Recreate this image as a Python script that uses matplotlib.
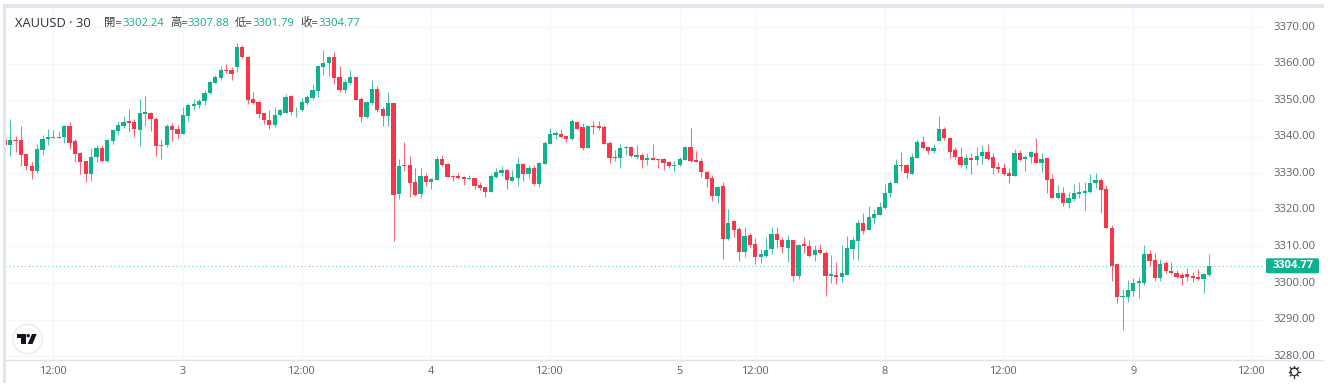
import matplotlib
matplotlib.use("Agg")
import matplotlib.pyplot as plt
from matplotlib.patches import Circle, Polygon, Rectangle, FancyBboxPatch
import numpy as np

symbol = "XAUUSD · 30"
last_open, last_high, last_low, last_close = 3302.24, 3307.88, 3301.79, 3304.77
ohlc_labels = ["開", "高", "低", "收"]
price_ticks = [3280, 3290, 3300, 3310, 3320, 3330, 3340, 3350, 3360, 3370]
time_tick_bars = [9, 33, 55, 79, 101, 125, 139, 163, 185, 209, 231]
time_tick_labels = ["12:00", "3", "12:00", "4", "12:00", "5", "12:00", "8", "12:00", "9", "12:00"]

opens = [
3339.1,3337.8,3339.0,3339.0,3335.3,3332.1,3330.6,3336.4,3339.4,3339.7,
3339.8,3339.9,3343.0,3338.9,3335.6,3333.3,3329.8,3334.5,3336.8,3333.4,
3338.9,3341.6,3343.0,3344.2,3344.0,3341.8,3346.3,3346.6,3345.0,3337.5,
3337.8,3343.0,3342.0,3340.8,3345.7,3348.5,3348.7,3349.7,3351.9,3354.8,
3356.1,3358.3,3358.3,3359.0,3364.5,3361.9,3350.3,3349.6,3346.4,3344.7,
3343.2,3346.0,3346.6,3351.2,3347.2,3347.2,3349.2,3350.6,3352.6,3359.1,
3360.2,3361.9,3356.3,3352.8,3354.8,3356.3,3350.3,3345.4,3349.2,3353.1,
3347.7,3345.7,3349.2,3324.4,3332.2,3332.2,3327.5,3324.4,3329.2,3327.7,
3328.2,3333.9,3332.6,3329.3,3329.2,3328.9,3328.5,3328.7,3326.8,3326.3,
3325.0,3328.9,3330.2,3330.9,3328.0,3328.8,3332.6,3329.7,3331.6,3327.0,
3332.6,3338.0,3340.5,3340.8,3340.2,3339.3,3344.0,3342.7,3337.0,3343.0,
3343.0,3342.7,3338.3,3334.5,3334.2,3336.8,3337.3,3334.6,3335.0,3333.7,
3334.1,3333.9,3333.8,3333.0,3331.9,3332.2,3333.7,3337.2,3333.7,3333.4,
3330.3,3328.6,3323.8,3326.5,3312.0,3316.9,3314.7,3308.5,3313.1,3310.7,
3307.1,3307.5,3309.4,3313.3,3311.9,3309.6,3311.9,3302.0,3310.7,3310.2,
3307.7,3309.0,3308.2,3302.0,3302.3,3301.7,3302.3,3309.4,3311.6,3316.4,
3314.5,3317.9,3318.7,3320.6,3324.6,3327.4,3332.4,3332.2,3329.9,3334.2,
3338.6,3337.1,3336.2,3338.9,3342.0,3339.8,3336.3,3334.6,3332.4,3334.1,
3333.7,3334.7,3335.8,3334.4,3331.7,3331.5,3330.0,3329.2,3335.6,3334.0,
3334.6,3335.7,3332.9,3334.1,3328.5,3323.2,3324.7,3321.9,3322.9,3324.4,
3324.7,3324.8,3327.4,3328.2,3325.7,3315.0,3305.1,3296.3,3296.3,3297.9,
3300.1,3300.1,3307.9,3306.3,3301.4,3305.4,3303.3,3302.8,3302.1,3302.4,
3301.9,3301.6,3301.2,3302.24]
closes = [
3337.8,3339.1,3338.9,3334.9,3332.0,3330.6,3336.6,3339.3,3339.9,3339.9,
3340.0,3343.0,3338.3,3335.4,3333.2,3329.8,3334.6,3336.8,3333.4,3339.0,
3341.8,3343.1,3344.1,3343.9,3342.0,3346.4,3346.7,3344.8,3337.4,3337.8,
3343.0,3341.9,3340.8,3345.9,3348.6,3348.9,3349.9,3352.0,3355.0,3356.3,
3358.2,3357.9,3357.3,3364.7,3361.7,3350.1,3349.2,3346.2,3344.5,3343.2,
3346.0,3347.2,3350.9,3346.7,3347.4,3349.4,3350.9,3352.8,3359.3,3360.2,
3361.9,3356.2,3352.8,3355.0,3356.3,3350.1,3345.4,3349.6,3353.1,3347.4,
3345.7,3349.2,3324.1,3332.1,3331.9,3327.3,3324.2,3329.2,3327.7,3328.5,
3333.9,3332.2,3329.1,3329.0,3328.7,3328.5,3328.8,3326.5,3326.0,3324.9,
3329.2,3330.4,3330.9,3328.2,3328.9,3332.6,3329.7,3331.6,3327.0,3332.8,
3338.3,3340.8,3341.0,3340.0,3339.3,3344.2,3342.2,3337.0,3343.0,3342.7,
3342.5,3338.1,3334.2,3334.1,3336.8,3337.2,3334.7,3335.0,3333.7,3334.1,
3333.7,3333.7,3332.9,3331.9,3332.4,3333.9,3337.1,3333.4,3333.1,3330.5,
3328.5,3323.8,3326.4,3312.0,3316.3,3314.5,3308.5,3312.9,3310.5,3307.0,
3307.8,3309.0,3313.3,3311.9,3309.8,3311.9,3302.0,3310.4,3310.0,3307.4,
3309.0,3308.1,3302.0,3302.4,3301.7,3302.8,3309.5,3311.7,3316.4,3314.3,
3318.1,3318.9,3320.8,3324.7,3327.4,3332.4,3332.0,3330.0,3334.4,3338.6,
3336.8,3336.1,3336.8,3342.0,3339.6,3335.9,3334.4,3332.4,3334.2,3333.7,
3334.8,3335.8,3334.0,3331.4,3331.1,3329.7,3329.4,3335.6,3333.6,3334.6,
3335.8,3332.8,3333.9,3328.2,3323.3,3324.7,3321.8,3323.3,3324.5,3324.8,
3325.1,3327.3,3328.2,3325.5,3315.0,3304.7,3296.3,3296.5,3298.1,3300.1,
3300.6,3307.9,3306.1,3301.5,3305.2,3303.2,3302.6,3301.7,3301.5,3301.6,
3301.5,3301.2,3302.4,3304.77]
highs = [
3340.2,3345.0,3340.2,3343.0,3335.5,3333.0,3337.9,3340.5,3342.0,3341.9,
3341.7,3343.1,3344.0,3339.3,3335.8,3333.3,3336.8,3337.8,3337.7,3339.5,
3342.0,3344.4,3345.6,3347.7,3344.8,3350.3,3351.1,3346.8,3345.5,3339.4,
3343.5,3343.7,3343.1,3348.1,3349.3,3350.4,3350.3,3352.8,3355.4,3356.8,
3359.5,3359.9,3359.2,3365.7,3365.1,3362.1,3352.3,3349.9,3346.6,3347.2,
3348.1,3347.5,3351.7,3351.3,3348.2,3350.5,3351.5,3354.4,3359.5,3363.7,
3362.1,3363.2,3359.5,3355.9,3358.3,3356.4,3350.8,3349.8,3355.5,3353.9,
3348.2,3352.3,3349.2,3333.8,3338.7,3334.7,3331.5,3331.4,3330.2,3328.6,
3334.8,3334.9,3332.7,3329.5,3330.0,3329.3,3329.5,3328.8,3327.5,3326.4,
3329.7,3331.4,3332.0,3331.2,3330.9,3334.4,3332.7,3332.2,3332.3,3333.0,
3338.9,3342.3,3341.7,3342.0,3340.3,3345.0,3344.0,3343.7,3343.2,3344.2,
3344.2,3343.2,3338.9,3336.4,3337.9,3337.6,3337.6,3337.8,3335.5,3335.7,
3338.0,3334.0,3334.1,3333.4,3333.4,3334.4,3337.6,3342.5,3336.1,3334.3,
3330.6,3329.5,3326.5,3327.7,3320.2,3317.1,3315.4,3315.2,3313.8,3312.2,
3309.3,3312.5,3315.2,3315.2,3312.5,3313.0,3311.9,3310.7,3312.7,3311.9,
3310.5,3310.6,3308.8,3307.6,3305.7,3310.4,3312.8,3312.7,3317.2,3319.1,
3321.2,3320.3,3322.1,3327.0,3327.9,3333.8,3335.8,3332.5,3335.5,3339.0,
3340.2,3337.3,3338.0,3345.7,3342.6,3340.0,3337.3,3337.3,3335.3,3335.5,
3337.1,3337.8,3338.0,3335.6,3333.0,3332.7,3331.5,3336.7,3336.3,3335.0,
3336.2,3339.6,3335.5,3334.1,3329.8,3326.8,3326.2,3325.0,3327.1,3327.5,
3327.5,3329.8,3330.0,3328.6,3326.8,3315.9,3305.2,3298.4,3300.8,3301.3,
3301.7,3310.5,3309.0,3308.3,3306.7,3306.0,3305.7,3303.6,3303.1,3304.0,
3303.1,3303.7,3302.8,3307.88]
lows = [
3337.7,3334.7,3335.8,3332.1,3330.9,3328.5,3330.2,3335.0,3337.8,3339.6,
3339.6,3338.4,3336.7,3333.2,3329.8,3327.7,3328.0,3333.1,3333.1,3333.2,
3338.1,3340.5,3342.5,3341.4,3339.9,3337.6,3343.0,3341.6,3334.7,3333.9,
3337.2,3338.8,3339.7,3340.8,3344.2,3347.3,3347.8,3348.7,3351.7,3354.8,
3355.5,3357.4,3355.5,3357.8,3361.5,3349.0,3349.0,3345.1,3343.5,3342.0,
3342.8,3345.7,3346.6,3346.0,3345.5,3347.1,3348.7,3350.3,3351.0,3356.9,
3356.5,3354.4,3352.3,3351.9,3354.2,3350.1,3344.0,3345.1,3348.7,3346.9,
3343.0,3343.0,3311.5,3323.0,3330.7,3323.6,3323.8,3323.3,3326.5,3325.7,
3328.2,3332.1,3328.9,3328.0,3328.5,3326.9,3328.4,3325.7,3325.4,3323.6,
3325.0,3328.6,3329.3,3325.7,3328.0,3326.5,3327.9,3328.8,3326.9,3326.4,
3332.6,3338.0,3339.3,3340.0,3338.7,3339.1,3342.0,3336.4,3337.0,3340.8,
3341.9,3338.1,3332.9,3333.5,3331.5,3335.1,3334.4,3334.0,3331.5,3332.2,
3333.7,3331.5,3330.9,3331.6,3330.6,3332.1,3333.7,3333.2,3333.0,3328.9,
3326.3,3322.3,3321.8,3306.6,3311.9,3312.5,3306.0,3307.2,3309.8,3305.2,
3305.4,3307.2,3307.8,3309.5,3308.3,3305.7,3300.6,3301.2,3308.3,3307.2,
3306.1,3307.8,3296.4,3299.9,3299.7,3300.4,3302.2,3306.7,3306.3,3313.3,
3314.5,3316.2,3318.7,3320.2,3323.6,3327.3,3330.7,3328.7,3329.9,3334.2,
3336.6,3335.4,3335.7,3338.9,3339.1,3334.1,3333.9,3331.8,3331.3,3329.7,
3332.4,3332.6,3333.7,3329.7,3330.0,3329.5,3327.3,3329.2,3333.5,3330.6,
3332.7,3332.7,3330.5,3324.5,3323.3,3323.1,3321.1,3320.5,3322.5,3323.3,
3320.0,3324.5,3326.0,3319.1,3315.0,3300.6,3294.5,3287.1,3294.7,3296.5,
3296.0,3299.5,3304.7,3300.5,3300.5,3302.8,3302.5,3301.5,3299.5,3300.5,
3300.4,3300.9,3297.2,3301.79]

GREEN = "#0fb18f"
RED = "#f7364a"
GRID = "#f5f6f8"
AXIS_TEXT = "#5d606b"
FONT = ["Open Sans", "Noto Sans CJK TC"]

W, H = 1337, 391
fig = plt.figure(figsize=(W / 100, H / 100), dpi=100, facecolor="white")

# Main price pane, placed in pixels
L, R, T, B = 5, 1266, 8, 359.5
ax = fig.add_axes([L / W, 1 - B / H, (R - L) / W, (B - T) / H])
PX_PER_BAR = 5.40
X0 = 4.7
PX_PER_USD = 3.655
ax.set_xlim((L - X0) / PX_PER_BAR, (R - X0) / PX_PER_BAR)
ax.set_ylim(3300 - (B - 283) / PX_PER_USD, 3300 + (283 - T) / PX_PER_USD)
for s in ax.spines.values():
    s.set_visible(False)
ax.set_xticks(time_tick_bars)
ax.set_yticks(price_ticks)
ax.set_xticklabels([])
ax.set_yticklabels([])
ax.tick_params(length=0)
ax.grid(True, color=GRID, lw=1.0)
ax.set_axisbelow(True)

x = np.arange(len(opens))
o, h, l, c = map(np.array, (opens, highs, lows, closes))
up = c >= o
colors = np.where(up, GREEN, RED)
ax.vlines(x, l, h, colors=colors, lw=0.75, alpha=0.75, zorder=3)
bottoms = np.minimum(o, c)
heights = np.maximum(np.abs(c - o), 0.25)
ax.bar(x, heights, bottom=bottoms, width=0.78, color=colors, lw=0, zorder=4)

ax.axhline(last_close, color=GREEN, lw=0.8, ls=(0, (1, 2.5)), alpha=0.6, zorder=2)

# Overlay in pixel coordinates for the interface elements
ov = fig.add_axes([0, 0, 1, 1], facecolor="none")
ov.set_xlim(0, W)
ov.set_ylim(H, 0)
ov.axis("off")

# Lavender frame
FRAME = "#e2e4ee"
ov.add_patch(Rectangle((3, 4), W - 16, 4, fc=FRAME, ec="none"))
ov.add_patch(Rectangle((3, 4), 3, 379, fc=FRAME, ec="none"))

# Header
ov.text(15, 23.3, symbol, fontsize=9.3, family=FONT, color="#2a2e39", va="center")
head_x = [104, 170, 235, 300]
val_x = [122.7, 187.7, 252.7, 318.3]
vals = [last_open, last_high, last_low, last_close]
for lab, hx, vx, v in zip(ohlc_labels, head_x, val_x, vals):
    ov.text(hx, 23.3, lab + "=", fontsize=8.2, family=FONT, color="#3c404b", va="center")
    ov.text(vx, 23.3, f"{v:.2f}", fontsize=8.1, family=FONT, color="#13a98a", va="center")

# Price axis labels; the lowest one is cut off by the time axis
for p in price_ticks:
    y = 283 - (p - 3300) * PX_PER_USD
    ov.text(1294, y, f"{p:.2f}", fontsize=8.1, family=FONT, color=AXIS_TEXT, ha="center", va="center", zorder=3)
ov.add_patch(Rectangle((1268, 359.5), 56, 7, fc="white", ec="none", zorder=4))
# Time axis line
ov.plot([6, 1323], [359.5, 359.5], color="#e0e3eb", lw=1, zorder=5)

# Time axis labels
for b, t in zip(time_tick_bars, time_tick_labels):
    ov.text(X0 + b * PX_PER_BAR, 371, t, fontsize=7.8, family=FONT, color=AXIS_TEXT, ha="center", va="center", zorder=5)

# Last price tag
ov.add_patch(FancyBboxPatch((1266, 258.3), 53, 15, boxstyle="round,pad=0,rounding_size=1.5", fc=GREEN, ec="none", zorder=5))
ov.text(1293.5, 265.8, f"{last_close:.2f}", fontsize=8.1, family=FONT, color="white", weight="bold", ha="center", va="center", zorder=6)

# TradingView logo
ov.add_patch(Circle((27.5, 339), 14.7, fc="white", ec="#e9eaee", lw=1, zorder=5))
ov.add_patch(Polygon([(17.3, 334), (26, 334), (26, 344), (21, 344), (21, 337.5), (17.3, 337.5)], fc="#131722", ec="none", zorder=6))
ov.add_patch(Circle((28.2, 335.7), 1.7, fc="#131722", ec="none", zorder=6))
ov.add_patch(Polygon([(32, 334), (36.7, 334), (32.5, 344), (27.7, 344)], fc="#131722", ec="none", zorder=6))

# Settings gear
GX, GY = 1294.3, 371.8
ov.add_patch(Circle((GX, GY), 3.8, fc="white", ec="#2a2e39", lw=0.9, zorder=5))
for a in np.deg2rad(np.arange(0, 360, 45)):
    ov.plot([GX + 3.8 * np.cos(a), GX + 5.8 * np.cos(a)], [GY + 3.8 * np.sin(a), GY + 5.8 * np.sin(a)], color="#2a2e39", lw=0.9, zorder=5)

fig.savefig("out.png", dpi=100)
